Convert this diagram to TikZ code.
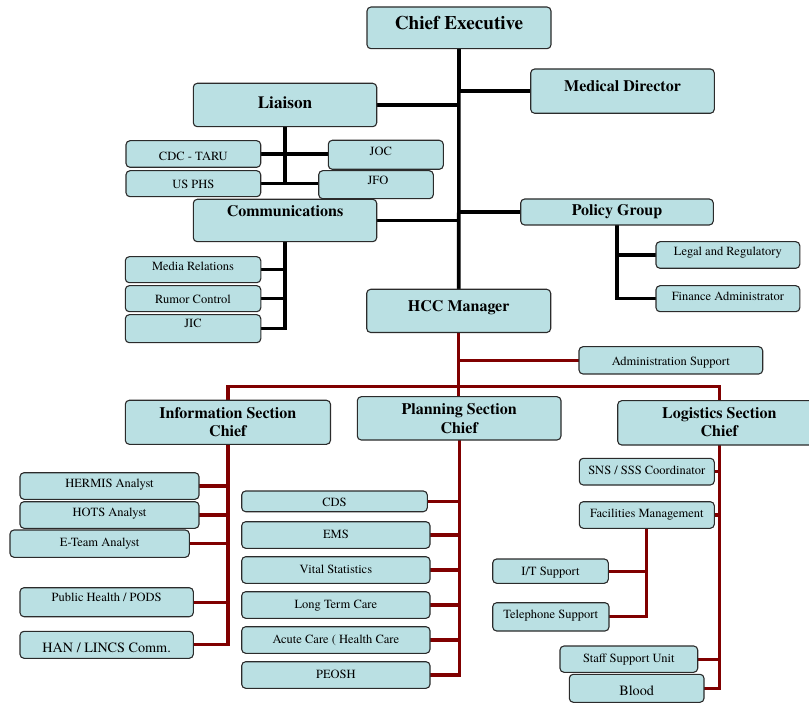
\documentclass[tikz,border=0pt]{standalone}
\usepackage{fontspec}
\setmainfont{TeX Gyre Termes}
\usetikzlibrary{backgrounds}

\definecolor{boxfill}{HTML}{BAE0E3}
\definecolor{boxline}{HTML}{2B2B2B}
\definecolor{cmdred}{HTML}{800000}

\tikzset{
  orgbox/.style={draw=boxline, line width=1.1pt, fill=boxfill, rounded corners=4pt,
    inner sep=0pt, outer sep=0pt},
  txt/.style={font=\rmfamily\fontsize{12.5}{14}\selectfont, inner sep=0pt},
  txtl/.style={font=\rmfamily\fontsize{14.2}{16}\selectfont, inner sep=0pt},
  hd/.style={font=\rmfamily\bfseries\fontsize{16}{19}\selectfont, inner sep=0pt},
  hdl/.style={font=\rmfamily\bfseries\fontsize{17.2}{20}\selectfont, inner sep=0pt},
  hdx/.style={font=\rmfamily\bfseries\fontsize{19.2}{22}\selectfont, inner sep=0pt},
  blkmain/.style={line width=3.6pt, black},
  blksub/.style={line width=3.1pt, black},
  redline/.style={line width=3.2pt, cmdred},
}

% \orgbox{name}{x1}{y1}{x2}{y2}{label x shift}{label baseline}{label style}{label}
\newcommand\orgbox[9]{%
  \node[orgbox, minimum width={#4-#2}, minimum height={#5-#3}]
    (#1) at ({(#2+#4)/2},{(#3+#5)/2}) {};
  \node[#8, anchor=base] (#1-label) at ({(#2+#4)/2+#6},#7) {#9};
}

\begin{document}
\begin{tikzpicture}[x=1pt, y=-1pt]
\useasboundingbox (0,0) rectangle (809,703);
\clip (0,0) rectangle (809,703);

% command staff
\orgbox{ce}{367}{7}{551}{48.7}{0}{29.3}{hdx}{Chief Executive}
\orgbox{md}{530.7}{69}{714.3}{113.3}{0}{91.7}{hd}{Medical Director}
\orgbox{liaison}{193.3}{83.3}{376.7}{126.7}{0}{108.3}{hdl}{Liaison}
\orgbox{cdc}{126}{140.7}{260.7}{167.3}{0}{160.5}{txt}{CDC - TARU}
\orgbox{joc}{328.3}{140.3}{443.3}{169.3}{-5}{155.5}{txt}{JOC}
\orgbox{usphs}{126}{170.7}{260.7}{196.7}{0}{188.7}{txt}{US PHS}
\orgbox{jfo}{318.7}{170.7}{433.3}{198.7}{2}{184.3}{txt}{JFO}
\orgbox{comm}{193.3}{199.3}{376.7}{241.7}{0}{217}{hd}{Communications}
\orgbox{policy}{520.7}{199}{713.3}{225}{0}{216}{hd}{Policy Group}
\orgbox{media}{125.3}{256.7}{260.8}{282.7}{0}{271}{txt}{Media Relations}
\orgbox{rumor}{125.3}{285.7}{260.8}{311.7}{0}{303.5}{txt}{Rumor Control}
\orgbox{jic}{125.3}{314.7}{260.8}{342.7}{0}{327.8}{txt}{JIC}
\orgbox{legal}{656}{241.7}{799.8}{268.3}{0}{256}{txt}{Legal and Regulatory}
\orgbox{finance}{656}{285.7}{799.8}{311.7}{0}{300.5}{txt}{Finance Administrator}
\orgbox{hcc}{366.7}{289.3}{550.7}{332.5}{0}{311.7}{hd}{HCC Manager}
\orgbox{admin}{579}{346.7}{762.7}{374}{0}{366}{txt}{Administration Support}

% section chiefs
\orgbox{info}{125.3}{400.3}{330.5}{444.3}{0}{418.5}{hd}{Information Section}
\node[hd, anchor=base] (info-label2) at (227.9,436.5) {Chief};
\orgbox{planning}{357.3}{396.7}{561}{440}{0}{414.3}{hd}{Planning Section}
\node[hd, anchor=base] (planning-label2) at (459.2,433.3) {Chief};
\orgbox{logistics}{617.7}{400.7}{821}{445}{0}{418.3}{hd}{Logistics Section}
\node[hd, anchor=base] (logistics-label2) at (719.3,436.7) {Chief};

% information section
\orgbox{hermis}{20}{472.7}{199}{499.3}{0}{487.3}{txt}{HERMIS Analyst}
\orgbox{hots}{20}{501.7}{199}{528.3}{0}{516.2}{txt}{HOTS Analyst}
\orgbox{eteam}{10}{530}{189.3}{557.3}{0}{546.2}{txt}{E-Team Analyst}
\orgbox{ph}{20}{587.7}{193.3}{616.7}{0}{601.8}{txt}{Public Health / PODS}
\orgbox{han}{20}{631.3}{193.3}{658.3}{0}{652.3}{txtl}{HAN / LINCS Comm.}

% planning section
\orgbox{cds}{241.7}{491}{427.3}{511.7}{0}{506.2}{txt}{CDS}
\orgbox{ems}{241.7}{521.7}{430}{548.3}{0}{538.5}{txt}{EMS}
\orgbox{vital}{241.7}{556.7}{430}{583.3}{0}{573.8}{txt}{Vital Statistics}
\orgbox{ltc}{241.7}{591.7}{430}{618.3}{0}{608.8}{txt}{Long Term Care}
\orgbox{acute}{241.7}{626.7}{430}{653.3}{0}{643.8}{txt}{Acute Care ( Health Care}
\orgbox{peosh}{241.7}{661.7}{430}{688.3}{0}{678.8}{txt}{PEOSH}

% logistics section
\orgbox{sns}{579.3}{458.3}{714.3}{485}{0}{474.5}{txt}{SNS / SSS Coordinator}
\orgbox{fac}{579.3}{501.7}{714.3}{528.3}{0}{517.2}{txt}{Facilities Management}
\orgbox{it}{492.7}{559}{608.3}{583.3}{0}{575.5}{txt}{I/T Support}
\orgbox{tel}{492.7}{602.7}{609}{631}{0}{618.5}{txt}{Telephone Support}
\orgbox{staff}{560}{646}{697.7}{672.3}{0}{662.8}{txt}{Staff Support Unit}
\orgbox{blood}{569.3}{674.3}{704}{702.3}{0}{695}{txtl}{Blood}

\begin{pgfonlayer}{background}
  % executive trunk and its branches
  \draw[blkmain] (ce.south) -- (hcc.north);
  \draw[blkmain] (md.west) -- (md.west -| ce.south);
  \draw[blkmain] (liaison.east) -- (liaison.east -| ce.south);
  \draw[blkmain] (comm.east) -- (comm.east -| ce.south);
  \draw[blkmain] (policy.west) -- (policy.west -| ce.south);

  % liaison group
  \draw[blksub] (liaison.south) -- (liaison.south |- usphs.east);
  \draw[blksub] (cdc.east) -- (cdc.east -| joc.west);
  \draw[blksub] (usphs.east) -- (usphs.east -| jfo.west);

  % communications group
  \draw[blkmain] (comm.south) |- (jic.east);
  \draw[blkmain] (media.east) -- (media.east -| comm.south);
  \draw[blkmain] (rumor.east) -- (rumor.east -| comm.south);

  % policy group
  \draw[blkmain] (policy.south) |- (finance.west);
  \draw[blkmain] (legal.west) -- (legal.west -| policy.south);

  % operations below the manager
  \coordinate (bar) at (hcc.south |- 0,386.5);
  \draw[redline] (hcc.south) -- (hcc.south |- planning.north);
  \draw[redline] (admin.west) -- (admin.west -| hcc.south);
  \draw[redline] (info.north) |- (bar) -| (logistics.north);

  % information section
  \draw[redline] (info.south) |- (han.east);
  \foreach \b in {hermis,hots,eteam,ph}
    \draw[redline] (\b.east) -- (\b.east -| info.south);

  % planning section
  \draw[redline] (planning.south) |- (peosh.east);
  \foreach \b in {cds,ems,vital,ltc,acute}
    \draw[redline] (\b.east) -- (\b.east -| planning.south);

  % logistics section
  \draw[redline] (logistics.south) |- (blood.east);
  \foreach \b in {sns,fac,staff}
    \draw[redline] (\b.east) -- (\b.east -| logistics.south);
  \draw[redline] (fac.south) |- (tel.east);
  \draw[redline] (it.east) -- (it.east -| fac.south);
\end{pgfonlayer}
\end{tikzpicture}
\end{document}
